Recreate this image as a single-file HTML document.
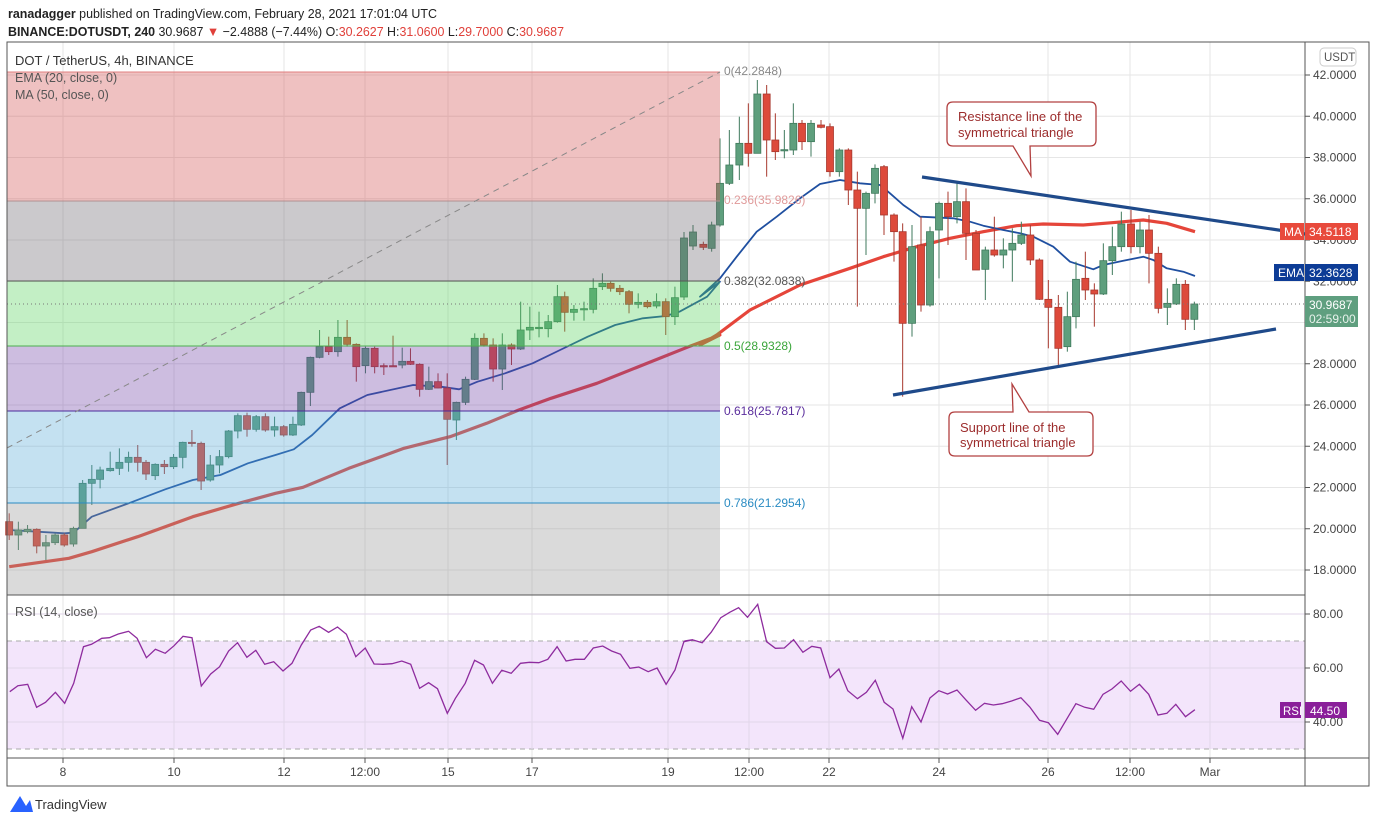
<!DOCTYPE html>
<html><head><meta charset="utf-8"><style>
html,body{margin:0;padding:0;background:#fff;width:1376px;height:823px;overflow:hidden}
svg{display:block;font-family:"Liberation Sans",sans-serif}
</style></head><body>
<svg id="s" width="1376" height="823" viewBox="0 0 1376 823" xmlns="http://www.w3.org/2000/svg">
<rect width="1376" height="823" fill="#fff"/>
<g id="grid" stroke="#e6e6e6" stroke-width="1"></g>
<g id="lines"></g>
<g id="cand"></g>
<g id="fib"></g>
<g id="over"></g>
<text x="8" y="18" font-size="13" fill="#222" textLength="429" lengthAdjust="spacingAndGlyphs"><tspan font-weight="bold">ranadagger</tspan> published on TradingView.com, February 28, 2021 17:01:04 UTC</text>
<text x="8" y="36" font-size="13" fill="#222" textLength="556" lengthAdjust="spacingAndGlyphs"><tspan font-weight="bold">BINANCE:DOTUSDT, 240</tspan> 30.9687 <tspan fill="#e0403a">▼</tspan> −2.4888 (−7.44%) O:<tspan fill="#e0403a">30.2627</tspan> H:<tspan fill="#e0403a">31.0600</tspan> L:<tspan fill="#e0403a">29.7000</tspan> C:<tspan fill="#e0403a">30.9687</tspan></text>
</svg>
<script>
const NS="http://www.w3.org/2000/svg";
function el(p,t,a,txt){const e=document.createElementNS(NS,t);for(const k in a)e.setAttribute(k,a[k]);if(txt!==undefined)e.textContent=txt;document.getElementById(p).appendChild(e);return e;}
const py=p=>75+(42-p)*20.625;
const vx=[63,174,284,365,448,532,668,749,829,939,1048,1130,1210];
vx.forEach(x=>{el('grid','line',{x1:x,y1:42,x2:x,y2:758});});
for(let p=42;p>=18;p-=2){el('grid','line',{x1:7,y1:py(p),x2:1305,y2:py(p)});}
[614,668,722].forEach(y=>el('grid','line',{x1:7,y1:y,x2:1305,y2:y}));
el('grid','rect',{x:7,y:641,width:1298,height:108,fill:'#f3e5fb',stroke:'none'});
el('grid','line',{x1:7,y1:641,x2:1305,y2:641,stroke:'#aaa','stroke-dasharray':'5,4'});
el('grid','line',{x1:7,y1:749,x2:1305,y2:749,stroke:'#aaa','stroke-dasharray':'5,4'});
[614,668,722].forEach(y=>el('grid','line',{x1:7,y1:y,x2:1305,y2:y,stroke:'#e2d6ea'}));
vx.forEach(x=>{el('grid','line',{x1:x,y1:641,x2:x,y2:749,stroke:'#e2d6ea'});});
const ema3=[[20,840],[140,850],[160,848],[200,800],[280,760],[360,718],[420,690],[480,675],[540,640],[600,615],[640,598],[680,555],[740,475],[800,435],[900,405],[960,410],[1000,418],[1040,395],[1100,370],[1160,340],[1220,300],[1280,260],[1340,225],[1400,205],[1450,198],[1480,185],[1540,140],[1568,95]];
const ema4=[[0,680],[60,625],[110,560],[170,485],[230,440],[300,385],[360,342],[420,330],[480,340],[540,345],[570,370],[610,405],[660,440],[700,442],[760,445],[810,455],[850,467],[910,480],[960,490],[1000,500],[1060,530],[1110,575],[1180,598],[1210,585],[1270,572],[1330,560],[1360,570],[1400,595],[1450,605],[1485,618]];
const ma3=[[20,950],[150,925],[200,905],[300,860],[420,800],[520,760],[600,730],[660,712],[760,655],[880,595],[980,560],[1060,520],[1130,480],[1200,445],[1300,400],[1400,345],[1500,290],[1568,255]];
const ma4=[[0,825],[50,795],[150,720],[300,645],[450,595],[550,560],[650,530],[750,505],[850,485],[950,467],[1030,462],[1150,465],[1250,457],[1330,450],[1400,460],[1485,485]];
const c3=p=>[p[0]/2.178,250+p[1]/3], c4=p=>[700+p[0]/3,70+p[1]/3];
const pts=a=>a.map(p=>p[0].toFixed(1)+','+p[1].toFixed(1)).join(' ');
el('lines','polyline',{points:pts(ma3.map(c3).concat(ma4.map(c4))),fill:'none',stroke:'#e5453a','stroke-width':3.2,'stroke-linejoin':'round'});
el('lines','polyline',{points:pts(ema3.map(c3).concat(ema4.map(c4))),fill:'none',stroke:'#1f4fa0','stroke-width':1.8,'stroke-linejoin':'round'});
const L=[[20,815,855,790,870,'r'],[40,840,855,815,900,'g'],[60,838,845,825,850,'g'],[80,838,888,835,910,'r'],[100,878,888,855,930,'g'],[120,855,878,850,885,'g'],[140,855,885,850,890,'r'],[160,835,882,830,890,'g'],[180,700,835,690,835,'g'],[200,688,700,645,765,'g'],[218,660,688,650,715,'g'],[240,655,662,605,665,'g'],[260,637,655,595,675,'g'],[280,622,637,605,665,'g'],[300,622,637,585,665,'r'],[318,637,672,630,690,'r'],[338,643,677,640,690,'g'],[358,643,650,630,672,'r'],[378,622,650,612,657,'g'],[398,577,622,575,655,'g'],[418,577,580,540,590,'r'],[438,580,693,575,720,'r'],[458,645,690,615,695,'g'],[478,620,645,600,670,'g'],[498,543,620,540,625,'g'],[518,497,543,490,565,'g'],[538,497,538,488,560,'r'],[558,500,538,495,545,'g'],[578,500,540,490,545,'r'],[598,530,540,500,560,'g'],[618,530,555,525,560,'r'],[638,523,555,500,558,'g'],[656,427,525,425,528,'g'],[676,322,427,320,468,'g'],[696,290,322,240,325,'g'],[716,290,305,260,315,'r'],[736,262,305,210,320,'g'],[756,262,283,210,290,'r'],[776,283,350,280,395,'r'],[796,295,347,290,370,'g'],[816,295,350,290,370,'r'],[836,347,350,340,375,'r'],[856,347,350,257,350,'r'],[876,334,345,293,355,'g'],[894,334,343,295,345,'r'],[914,343,418,340,440,'r'],[934,395,418,350,420,'g'],[954,395,414,370,415,'r'],[974,414,508,370,645,'r'],[994,457,510,455,570,'g'],[1014,388,457,380,465,'g'],[1034,265,388,250,390,'g'],[1054,265,285,250,290,'r'],[1074,285,357,265,395,'r'],[1094,285,357,250,420,'g'],[1114,285,297,280,345,'r'],[1134,240,297,155,300,'g'],[1154,232,240,170,270,'g'],[1174,232,236,185,262,'g'],[1194,215,236,195,262,'g'],[1214,140,215,105,218,'g'],[1230,140,187,125,245,'r'],[1250,178,187,165,212,'g'],[1272,176,179,155,212,'g'],[1292,115,178,85,190,'g'],[1312,100,110,70,120,'g'],[1330,100,115,95,125,'r'],[1350,115,125,105,135,'r'],[1370,125,163,120,190,'r'],[1390,157,163,130,175,'g'],[1410,157,170,150,175,'r'],[1430,155,168,130,175,'g'],[1450,155,200,145,255,'r'],[1470,143,200,110,225,'g']];
const R=[[10,523,532,515,540,'r'],[35,465,535,455,545,'g'],[60,340,465,205,470,'g'],[88,285,340,180,345,'g'],[118,220,285,140,330,'g'],[145,220,250,100,290,'r'],[172,72,250,30,250,'g'],[200,72,210,45,320,'r'],[226,210,245,130,270,'r'],[253,239,242,180,265,'g'],[280,160,240,100,255,'g'],[306,160,215,150,240,'r'],[333,160,215,150,260,'g'],[363,165,172,150,175,'r'],[390,170,305,160,320,'r'],[418,240,305,235,320,'g'],[445,240,360,235,405,'r'],[472,360,415,305,710,'r'],[498,370,415,365,555,'g'],[525,295,370,283,400,'g'],[552,290,435,285,495,'r'],[582,435,485,430,575,'r'],[608,485,760,460,980,'r'],[636,530,760,465,800,'g'],[663,525,705,440,725,'r'],[690,485,705,470,710,'g'],[717,400,480,395,625,'g'],[744,400,440,365,525,'r'],[771,395,440,340,460,'g'],[798,395,490,355,570,'r'],[828,490,600,480,600,'r'],[856,540,598,530,690,'g'],[883,540,555,440,560,'r'],[910,540,555,505,595,'g'],[937,520,540,475,635,'g'],[964,495,520,455,525,'g'],[991,495,570,465,585,'r'],[1018,570,688,565,690,'r'],[1045,688,712,630,835,'r'],[1075,712,835,675,885,'r'],[1102,740,830,665,845,'g'],[1128,628,740,575,775,'g'],[1156,625,660,545,690,'r'],[1183,660,672,640,770,'r'],[1210,572,672,520,675,'g'],[1237,530,572,470,615,'g'],[1264,462,530,425,545,'g'],[1293,462,530,420,550,'r'],[1320,480,530,455,550,'g'],[1347,480,550,435,640,'r'],[1375,550,715,530,730,'r'],[1402,700,712,655,765,'g'],[1429,643,702,625,705,'g'],[1456,643,748,630,780,'r'],[1483,702,748,695,780,'g']];
function candle(x,t,b,wt,wb,c){const f=c=='g'?'#5e9f7d':'#dd4a3b',s=c=='g'?'#3f7a5c':'#a8382e';
 el('cand','line',{x1:x,y1:wt,x2:x,y2:wb,stroke:s,'stroke-width':1});
 el('cand','rect',{x:x-3.5,y:t,width:7,height:Math.max(1.2,b-t),fill:f,stroke:s,'stroke-width':0.8});}
L.forEach(c=>candle(c[0]/2.178,250+c[1]/3,250+c[2]/3,250+c[3]/3,250+c[4]/3,c[5]));
candle(684,238,297,232,300,'g');
candle(693,232,246,225,250,'g');
R.forEach(c=>candle(700+c[0]/3,70+c[1]/3,70+c[2]/3,70+c[3]/3,70+c[4]/3,c[5]));
const zones=[[72,201,'209,77,77'],[201,281,'106,100,108'],[281,346,'83,209,89'],[346,411,'111,66,166'],[411,503,'86,169,214'],[503,595,'149,149,149']];
zones.forEach(z=>el('fib','rect',{x:7,y:z[0],width:713,height:z[1]-z[0],fill:'rgba('+z[2]+',0.35)'}));
[[72,'#e08080'],[201,'#b09090'],[281,'#555'],[346,'#4caf50'],[411,'#4b2a9a'],[503,'#2a8bc2']].forEach(l=>el('fib','line',{x1:7,y1:l[0],x2:720,y2:l[0],stroke:l[1],'stroke-width':1}));
el('fib','line',{x1:7,y1:448,x2:720,y2:72,stroke:'#888','stroke-dasharray':'6,5','stroke-width':1});
[[75,'0(42.2848)','#888'],[204,'0.236(35.9826)','#e09a9a'],[285,'0.382(32.0838)','#555'],[350,'0.5(28.9328)','#3aa53a'],[415,'0.618(25.7817)','#5a2d9c'],[507,'0.786(21.2954)','#2a8bc2']].forEach(t=>el('fib','text',{x:724,y:t[0],'font-size':12,fill:t[2]},t[1]));
el('over','line',{x1:7,y1:304,x2:1305,y2:304,stroke:'#777','stroke-dasharray':'1,3'});
el('over','line',{x1:922,y1:177,x2:1305,y2:234,stroke:'#1f4a8a','stroke-width':3.2});
el('over','line',{x1:893,y1:395,x2:1276,y2:329,stroke:'#1f4a8a','stroke-width':3.2});
el('over','path',{d:'M953,102 H1090 Q1096,102 1096,108 V140 Q1096,146 1090,146 H1030 L1031,176 L1013,146 H953 Q947,146 947,140 V108 Q947,102 953,102 Z',fill:'#fff',stroke:'#b24040','stroke-width':1.3});
el('over','text',{x:958,y:121,'font-size':13,fill:'#9c2c2c'},'Resistance line of the');
el('over','text',{x:958,y:137,'font-size':13,fill:'#9c2c2c'},'symmetrical triangle');
el('over','path',{d:'M955,412 H1013 L1012,384 L1029,412 H1087 Q1093,412 1093,418 V450 Q1093,456 1087,456 H955 Q949,456 949,450 V418 Q949,412 955,412 Z',fill:'#fff',stroke:'#b24040','stroke-width':1.3});
el('over','text',{x:960,y:432,'font-size':13,fill:'#9c2c2c'},'Support line of the');
el('over','text',{x:960,y:447,'font-size':13,fill:'#9c2c2c'},'symmetrical triangle');
const r5=[[22,290],[40,272],[62,268],[82,337],[102,322],[124,292],[145,325],[165,265],[187,155],[205,148],[228,130],[245,128],[265,117],[288,109],[307,130],[328,188],[348,163],[370,175],[390,152],[410,124],[430,128],[451,273],[472,237],[492,215],[512,168],[532,143],[553,187],[573,166],[593,208],[613,200],[634,228],[654,205],[675,150],[696,105],[715,94],[736,112],[756,96],[776,118],[797,185],[818,159],[838,207],[858,208],[878,206],[900,198],[920,208],[940,280],[960,263],[980,281],[1002,355],[1020,310],[1042,265],[1063,196],[1083,210],[1103,265],[1124,226],[1145,235],[1166,205],[1186,202],[1207,203],[1227,193],[1248,155],[1268,198],[1288,193],[1309,193],[1329,159],[1350,153],[1370,168],[1390,178],[1411,220],[1431,216],[1452,230],[1472,219],[1492,268],[1512,225],[1532,140],[1552,134]].map(p=>[p[0]/2.24,595+p[1]/3]);
const r6=[[10,138],[30,135],[50,143],[70,112],[92,68],[112,52],[132,38],[152,67],[175,28],[195,140],[215,160],[235,159],[256,134],[277,172],[297,154],[317,159],[338,248],[358,222],[378,287],[400,311],[420,292],[440,256],[460,322],[480,342],[502,430],[522,335],[543,381],[563,309],[583,287],[603,297],[624,285],[645,316],[666,346],[686,325],[706,330],[726,326],[747,318],[768,308],[788,336],[810,376],[830,383],[851,418],[871,373],[892,326],[912,337],[932,343],[953,298],[973,282],[994,258],[1015,289],[1035,268],[1056,298],[1077,360],[1097,355],[1117,328],[1139,365],[1160,344]].map(p=>[680+p[0]/2.253,595+p[1]/3]);
el('over','polyline',{points:pts(r5.concat(r6)),fill:'none',stroke:'#8e2c9e','stroke-width':1.3});
el('over','rect',{x:7,y:42,width:1362,height:744,fill:'none',stroke:'#555','stroke-width':1});
el('over','line',{x1:1305,y1:42,x2:1305,y2:786,stroke:'#555'});
el('over','line',{x1:7,y1:595,x2:1305,y2:595,stroke:'#555'});
el('over','line',{x1:7,y1:758,x2:1369,y2:758,stroke:'#555'});
el('over','text',{x:15,y:65,'font-size':13,fill:'#333'},'DOT / TetherUS, 4h, BINANCE');
el('over','text',{x:15,y:82,'font-size':12.5,fill:'#555'},'EMA (20, close, 0)');
el('over','text',{x:15,y:99,'font-size':12.5,fill:'#555'},'MA (50, close, 0)');
el('over','text',{x:15,y:616,'font-size':12.5,fill:'#555'},'RSI (14, close)');
for(let p=42;p>=18;p-=2){const y=py(p);el('over','line',{x1:1305,y1:y,x2:1310,y2:y,stroke:'#555'});el('over','text',{x:1313,y:y+4,'font-size':12,fill:'#444'},p.toFixed(4));}
[[614,'80.00'],[668,'60.00'],[722,'40.00']].forEach(t=>{el('over','line',{x1:1305,y1:t[0],x2:1310,y2:t[0],stroke:'#555'});el('over','text',{x:1313,y:t[0]+4,'font-size':12,fill:'#444'},t[1]);});
el('over','rect',{x:1320,y:48,width:36,height:18,rx:4,fill:'#fff',stroke:'#ccc'});
el('over','text',{x:1324,y:61,'font-size':11.5,fill:'#555'},'USDT');
el('over','rect',{x:1280,y:223,width:24,height:17,fill:'#e84a3c'});el('over','text',{x:1284,y:236,'font-size':12,fill:'#fff'},'MA');
el('over','rect',{x:1305,y:223,width:53,height:17,fill:'#e84a3c'});el('over','text',{x:1309,y:236,'font-size':12,fill:'#fff'},'34.5118');
el('over','rect',{x:1274,y:264,width:30,height:17,fill:'#0d3c96'});el('over','text',{x:1278,y:277,'font-size':12,fill:'#fff'},'EMA');
el('over','rect',{x:1305,y:264,width:53,height:17,fill:'#0d3c96'});el('over','text',{x:1309,y:277,'font-size':12,fill:'#fff'},'32.3628');
el('over','rect',{x:1305,y:296,width:53,height:31,fill:'#5f9f7f'});el('over','text',{x:1309,y:309,'font-size':12,fill:'#fff'},'30.9687');el('over','text',{x:1309,y:323,'font-size':12,fill:'#e8f2ec'},'02:59:00');
el('over','rect',{x:1280,y:702,width:21,height:16,fill:'#8a1f9a'});el('over','text',{x:1283,y:715,'font-size':11.5,fill:'#fff'},'RSI');
el('over','rect',{x:1305,y:702,width:42,height:16,fill:'#8a1f9a'});el('over','text',{x:1310,y:715,'font-size':12,fill:'#fff'},'44.50');
[[63,'8'],[174,'10'],[284,'12'],[365,'12:00'],[448,'15'],[532,'17'],[668,'19'],[749,'12:00'],[829,'22'],[939,'24'],[1048,'26'],[1130,'12:00'],[1210,'Mar']].forEach(t=>{el('over','line',{x1:t[0],y1:758,x2:t[0],y2:763,stroke:'#555'});el('over','text',{x:t[0],y:776,'font-size':12,fill:'#444','text-anchor':'middle'},t[1]);});
el('over','path',{d:'M10,812 L20,796 L26,806 L30,800 L33,812 Z',fill:'#2962ff'});
el('over','text',{x:35,y:809,'font-size':13,fill:'#333'},'TradingView');
</script>
</body></html>
